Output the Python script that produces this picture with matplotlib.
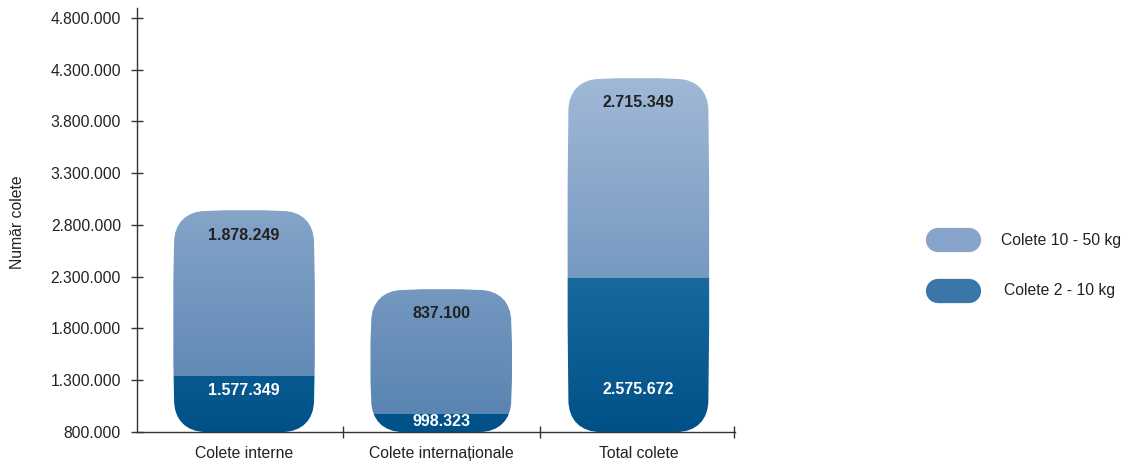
import numpy as np
import matplotlib.pyplot as plt
from matplotlib.path import Path
from matplotlib.patches import PathPatch, FancyBboxPatch
from matplotlib.colors import to_rgb

plt.rcParams['font.family'] = ['Liberation Sans', 'DejaVu Sans']

# data
categories = ['Colete interne', 'Colete internaționale', 'Total colete']
series_names = ['Colete 10 - 50 kg', 'Colete 2 - 10 kg']
light_values = [1878249, 837100, 2715349]   # Colete 10 - 50 kg
dark_values = [1577349, 998323, 2575672]    # Colete 2 - 10 kg
# bar extents as drawn in the picture (axis units)
dark_tops = [1340000, 975000, 2288000]
light_tops = [2935000, 2172000, 4211000]
yticks = list(range(800000, 4800001, 500000))

Y0, Y1 = 800000, 4900000
X0, X1 = -0.543, 2.49
BAR_W = 0.71

LIGHT_BOT, LIGHT_TOP = '#5a85b2', '#a2b9d7'
DARK_BOT, DARK_TOP = '#005188', '#18699d'


def fmt(v):
    return f'{v:,}'.replace(',', '.')


def lerp(c0, c1, t):
    a, b = np.array(to_rgb(c0)), np.array(to_rgb(c1))
    return a + (b - a) * np.clip(t, 0, 1)[:, None]


W, H = 1128, 465
fig = plt.figure(figsize=(W / 100, H / 100), dpi=100)
ax = fig.add_axes([137 / W, (H - 432) / H, (735 - 137) / W, 424.4 / H])
ax.set_xlim(X0, X1)
ax.set_ylim(Y0, Y1)

# pixel scales for shaping the rounded bars
px_x = (735 - 137) / (X1 - X0)
px_y = 424.4 / (Y1 - Y0)


def rounded_bar(xc, top, r=32, bulge=2.0):
    rx, ry = r / px_x, r / px_y
    bx, by = bulge / px_x, bulge / px_y
    x0, x1 = xc - BAR_W / 2, xc + BAR_W / 2
    y0, y1 = Y0, top
    k = 0.62
    ym = (y0 + y1) / 2
    xm = xc
    verts = [
        (x0, y0 + ry),
        (x0 - bx, ym), (x0, y1 - ry),
        (x0, y1 - ry + k * ry), (x0 + rx - k * rx, y1), (x0 + rx, y1),
        (xm, y1 + by), (x1 - rx, y1),
        (x1 - rx + k * rx, y1), (x1, y1 - ry + k * ry), (x1, y1 - ry),
        (x1 + bx, ym), (x1, y0 + ry),
        (x1, y0 + ry - k * ry), (x1 - rx + k * rx, y0), (x1 - rx, y0),
        (x0 + rx, y0),
        (x0 + rx - k * rx, y0), (x0, y0 + ry - k * ry), (x0, y0 + ry),
        (x0, y0 + ry),
    ]
    codes = [Path.MOVETO,
             Path.CURVE3, Path.CURVE3,
             Path.CURVE4, Path.CURVE4, Path.CURVE4,
             Path.CURVE3, Path.CURVE3,
             Path.CURVE4, Path.CURVE4, Path.CURVE4,
             Path.CURVE3, Path.CURVE3,
             Path.CURVE4, Path.CURVE4, Path.CURVE4,
             Path.LINETO,
             Path.CURVE4, Path.CURVE4, Path.CURVE4,
             Path.CLOSEPOLY]
    return Path(verts, codes), x0 - bx, x1 + bx


for i, cat in enumerate(categories):
    top = light_tops[i]
    path, xa, xb = rounded_bar(i, top)
    patch = PathPatch(path, facecolor='none', edgecolor='none')
    ax.add_patch(patch)
    ys = np.linspace(Y0, top + 30000, 900)
    cols = np.where((ys <= dark_tops[i])[:, None],
                    lerp(DARK_BOT, DARK_TOP, (ys - Y0) / (2300000 - Y0)),
                    lerp(LIGHT_BOT, LIGHT_TOP, (ys - 1000000) / (4250000 - 1000000)))
    img = np.repeat(cols[:, None, :], 2, axis=1)
    im = ax.imshow(img, origin='lower', extent=[xa, xb, Y0, top + 30000],
                   aspect='auto', interpolation='nearest', zorder=1)
    im.set_clip_path(patch)

    ax.text(i, top - 24 / px_y, fmt(light_values[i]), ha='center', va='center',
            fontsize=11.5, fontweight='bold', color='#222222', zorder=3)
    wy = min(dark_tops[i] - 14 / px_y, 1206000)
    wy = max(wy, 897000)
    ax.text(i, wy, fmt(dark_values[i]), ha='center', va='center',
            fontsize=11.5, fontweight='bold', color='white', zorder=3)

ax.set_xlim(X0, X1)
ax.set_ylim(Y0, Y1)

for s in ['top', 'right']:
    ax.spines[s].set_visible(False)
for s in ['left', 'bottom']:
    ax.spines[s].set_color('#333333')
    ax.spines[s].set_linewidth(1.0)
    ax.spines[s].set_zorder(4)

ax.set_yticks(yticks)
ax.set_yticklabels([fmt(v) for v in yticks])
ax.tick_params(axis='y', direction='inout', length=9, width=1, color='#333333',
               labelsize=11.3, labelcolor='#222222', pad=7)

ax.set_xticks([0, 1, 2])
ax.set_xticklabels(categories)
ax.tick_params(axis='x', which='major', length=0, labelsize=11.3,
               labelcolor='#222222', pad=10)
ax.set_xticks([0.5, 1.5, X1 - 0.003], minor=True)
ax.tick_params(axis='x', which='minor', direction='inout', length=9, width=1,
               color='#333333')

fig.text(18 / W, (H - 222) / H, 'Număr colete', rotation=90, ha='center',
         va='center', fontsize=11.3, color='#222222')

# legend
leg_cols = ['#86a4c9', '#3a77a8']
leg_y = [240, 291]
leg_tx = [1001, 1004]
for name, c, yc, tx in zip(series_names, leg_cols, leg_y, leg_tx):
    pill = FancyBboxPatch((938 / W, (H - yc - 1) / H), 31 / W, 2 / H,
                          boxstyle='round,pad=0,rounding_size=0.001',
                          transform=fig.transFigure, facecolor=c,
                          edgecolor='none')
    fig.patches.append(pill)
    fig.add_artist(plt.Line2D([938 / W, 969 / W], [(H - yc) / H] * 2,
                              transform=fig.transFigure, color=c,
                              linewidth=17.5, solid_capstyle='round'))
    fig.text(tx / W, (H - yc) / H, name, ha='left', va='center',
             fontsize=11.3, color='#222222')

fig.savefig('out.png', dpi=100)
